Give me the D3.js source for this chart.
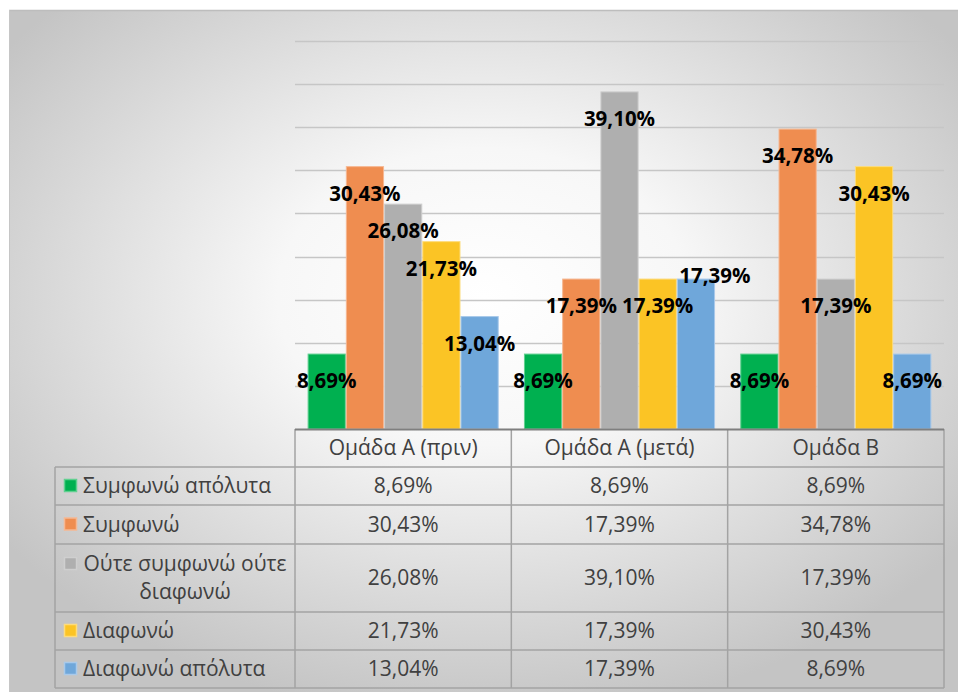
<!DOCTYPE html>
<html><head><meta charset="utf-8">
<script src="https://cdn.jsdelivr.net/npm/d3@7/dist/d3.min.js"></script>
<style>body{margin:0;background:#fff;} svg{display:block}</style>
</head><body><svg id="c" width="958" height="692"></svg>
<script>
// ---- data ----
const groups = ["Ομάδα Α (πριν)", "Ομάδα Α (μετά)", "Ομάδα Β"];
const seriesNames = ["Συμφωνώ απόλυτα", "Συμφωνώ", "Ούτε συμφωνώ ούτε διαφωνώ", "Διαφωνώ", "Διαφωνώ απόλυτα"];
const legendLines = [["Συμφωνώ απόλυτα"], ["Συμφωνώ"], ["Ούτε συμφωνώ ούτε", "διαφωνώ"], ["Διαφωνώ"], ["Διαφωνώ απόλυτα"]];
const stronglyAgree = [8.69, 8.69, 8.69];
const agree = [30.43, 17.39, 34.78];
const neutral = [26.08, 39.10, 17.39];
const disagree = [21.73, 17.39, 30.43];
const stronglyDisagree = [13.04, 17.39, 8.69];
const seriesValues = [stronglyAgree, agree, neutral, disagree, stronglyDisagree];
const yTicks = [0, 5, 10, 15, 20, 25, 30, 35, 40, 45];
const colors = ["#00b050", "#ef8d50", "#afafaf", "#fbc425", "#6fa7da"];
const borderColors = ["#5fd08f", "#f6b892", "#cfcfcf", "#fddc7c", "#a8c9ea"];

const fmt = v => d3.format(".2f")(v).replace(".", ",") + "%";

// ---- layout ----
const W = 958, H = 692;
const plotL = 295, plotR = 944, plotT = 41, plotB = 429;
const legendL = 55;
const headerH = 38;
const rowHeights = [38, 39, 68, 38, 38];

const svg = d3.select("#c");
const defs = svg.append("defs");
const rg = defs.append("radialGradient").attr("id", "bg")
  .attr("cx", "50%").attr("cy", "42%").attr("r", "62%");
rg.append("stop").attr("offset", "0%").attr("stop-color", "#ffffff");
rg.append("stop").attr("offset", "35%").attr("stop-color", "#f7f7f7");
rg.append("stop").attr("offset", "100%").attr("stop-color", "#c4c4c4");

svg.append("rect").attr("x", 0).attr("y", 0).attr("width", W).attr("height", H).attr("fill", "#fff");
svg.append("rect").attr("x", 9).attr("y", 10).attr("width", W - 9).attr("height", H - 10).attr("fill", "url(#bg)");
svg.append("line").attr("x1", 9).attr("x2", W).attr("y1", 10.5).attr("y2", 10.5).attr("stroke", "#bdbdbd").attr("stroke-width", 1.5);
svg.append("line").attr("x1", 9.5).attr("x2", 9.5).attr("y1", 10).attr("y2", H).attr("stroke", "#c6c6c6").attr("stroke-width", 1);

// scales
const y = d3.scaleLinear().domain([0, 45]).range([plotB, plotT]);
const x0 = d3.scaleBand().domain(groups).range([plotL, plotR]).padding(0);
const x1 = d3.scaleBand().domain(d3.range(seriesNames.length)).range([0, x0.bandwidth()])
  .paddingInner(0).paddingOuter(0.33);

// gridlines
svg.append("g").selectAll("line").data(yTicks.filter(t => t > 0)).join("line")
  .attr("x1", plotL).attr("x2", plotR)
  .attr("y1", d => Math.round(y(d)) + 0.5).attr("y2", d => Math.round(y(d)) + 0.5)
  .attr("stroke", "#c6c6c6").attr("stroke-width", 1.5);

// bars
const barData = [];
groups.forEach((g, gi) => seriesValues.forEach((vals, si) => barData.push({ g, gi, si, v: vals[gi] })));
svg.append("g").selectAll("rect").data(barData).join("rect")
  .attr("x", d => x0(d.g) + x1(d.si) + 0.5)
  .attr("y", d => y(d.v))
  .attr("width", x1.bandwidth() - 1)
  .attr("height", d => y(0) - y(d.v))
  .attr("fill", d => colors[d.si])
  .attr("stroke", d => borderColors[d.si]).attr("stroke-width", 1);

// labels (one label in group 2 moved aside as in the original)
const labelShift = (d) => (d.gi === 1 && d.si === 4) ? { dx: 19, dy: -30 } : { dx: 0, dy: 0 };
svg.append("g").selectAll("text").data(barData).join("text")
  .attr("x", d => x0(d.g) + x1(d.si) + x1.bandwidth() / 2 + labelShift(d).dx)
  .attr("y", d => y(d.v) + 34 + labelShift(d).dy)
  .attr("text-anchor", "middle")
  .attr("font-family", "'Open Sans', sans-serif").attr("font-weight", 700)
  .attr("font-size", 20.5).attr("fill", "#000")
  .text(d => fmt(d.v));

// ---- data table ----
const tbl = svg.append("g");
const gridStroke = "#a3a3a3";
const rowTops = [plotB + headerH];
rowHeights.forEach(h => rowTops.push(rowTops[rowTops.length - 1] + h));
const tableBottom = rowTops[rowTops.length - 1];

// horizontal lines
rowTops.forEach(yy => tbl.append("line").attr("x1", legendL).attr("x2", plotR)
  .attr("y1", yy).attr("y2", yy).attr("stroke", gridStroke).attr("stroke-width", 1.5));
// vertical lines for data columns
const colEdges = groups.map(g => x0(g)).concat([plotR]);
colEdges.forEach(xx => tbl.append("line").attr("x1", xx).attr("x2", xx)
  .attr("y1", plotB).attr("y2", tableBottom).attr("stroke", gridStroke).attr("stroke-width", 1.5));
tbl.append("line").attr("x1", legendL).attr("x2", legendL).attr("y1", rowTops[0]).attr("y2", tableBottom)
  .attr("stroke", gridStroke).attr("stroke-width", 1.5);
// axis line
svg.append("line").attr("x1", plotL).attr("x2", plotR).attr("y1", plotB + 0.5).attr("y2", plotB + 0.5)
  .attr("stroke", "#7f7f7f").attr("stroke-width", 2);

const tf = "'Open Sans', sans-serif", tsz = 21, tcol = "#404040";
// header
groups.forEach(g => tbl.append("text").attr("x", x0(g) + x0.bandwidth() / 2).attr("y", plotB + headerH / 2 + 7)
  .attr("text-anchor", "middle").attr("font-family", tf).attr("font-size", tsz).attr("fill", tcol).text(g));

// rows
seriesNames.forEach((name, si) => {
  const top = rowTops[si], h = rowHeights[si], cy = top + h / 2;
  const lines = legendLines[si];
  const firstY = lines.length === 1 ? cy : cy - 14;
  tbl.append("rect").attr("x", 64.5).attr("y", firstY - 6.5).attr("width", 12).attr("height", 12)
    .attr("fill", colors[si]).attr("stroke", borderColors[si]).attr("stroke-width", 1.5);
  if (lines.length === 1) {
    tbl.append("text").attr("x", 83).attr("y", cy + 7).attr("font-family", tf).attr("font-size", tsz)
      .attr("fill", tcol).text(lines[0]);
  } else {
    lines.forEach((ln, li) => tbl.append("text").attr("x", 185).attr("y", cy - 14 + li * 28 + 7)
      .attr("text-anchor", "middle").attr("font-family", tf).attr("font-size", tsz).attr("fill", tcol).text(ln));
  }
  groups.forEach((g, gi) => tbl.append("text").attr("x", x0(g) + x0.bandwidth() / 2).attr("y", cy + 7)
    .attr("text-anchor", "middle").attr("font-family", tf).attr("font-size", tsz).attr("fill", tcol)
    .text(fmt(seriesValues[si][gi])));
});
</script></body></html>
